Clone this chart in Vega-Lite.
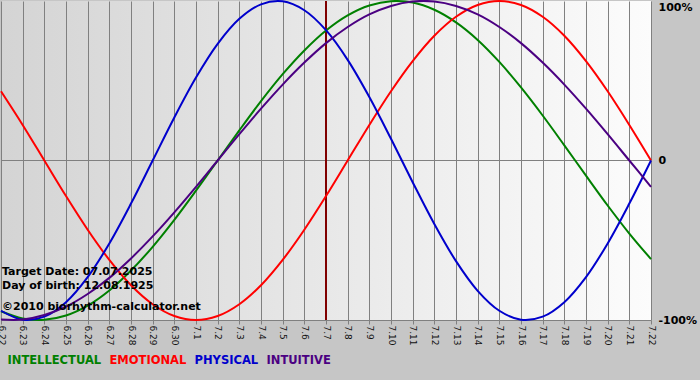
{
  "$schema": "https://vega.github.io/schema/vega-lite/v6.json",
  "width": 650,
  "height": 319,
  "autosize": {"type": "none"},
  "padding": {"left": 1, "top": 1, "right": 49, "bottom": 60},
  "background": "#c6c6c6",
  "config": {
    "font": "DejaVu Sans",
    "view": {
      "stroke": null,
      "fill": {"gradient": "linear", "x1": 0, "y1": 0, "x2": 1, "y2": 0,
        "stops": [{"offset": 0, "color": "#d4d4d4"}, {"offset": 1, "color": "#fcfcfc"}]}
    },
    "axisX": {
      "title": null,
      "grid": true, "gridColor": "#808080", "gridOpacity": 1, "gridWidth": 1,
      "domain": true, "domainColor": "#808080", "domainWidth": 1,
      "ticks": true, "tickColor": "#808080", "tickSize": 4,
      "labelAngle": 90, "labelAlign": "left", "labelBaseline": "middle",
      "labelFont": "DejaVu Sans", "labelFontSize": 9, "labelColor": "#111111",
      "labelPadding": 1, "labelOverlap": false, "labelFlush": false, "labelBound": false
    },
    "axisY": {
      "title": null, "grid": false, "domain": false, "ticks": false,
      "labelAlign": "left",
      "labelFont": "DejaVu Sans", "labelFontWeight": "bold", "labelFontSize": 11, "labelColor": "#000000",
      "labelPadding": 7, "labelFlush": false, "labelOverlap": false, "labelBound": false
    }
  },
  "layer": [
    {
      "data": {"values": [{}]},
      "mark": {"type": "rule", "color": "#808080", "strokeWidth": 1},
      "encoding": {"y": {"datum": 0, "type": "quantitative",
        "axis": {"orient": "right", "values": [-1, 0, 1], "tickCount": 10,
          "labelExpr": "datum.value == 1 ? '100%' : datum.value == 0 ? '0' : '-100%'",
          "labelBaseline": {"condition": {"test": "datum.value == 1", "value": "top"}, "value": "middle"}}}}
    },
    {
      "data": {"values": [{}]},
      "mark": {"type": "rule", "color": "#800000", "strokeWidth": 2},
      "encoding": {"x": {"datum": 15, "type": "quantitative",
        "axis": {"values": [0,1,2,3,4,5,6,7,8,9,10,11,12,13,14,15,16,17,18,19,20,21,22,23,24,25,26,27,28,29,30],
          "tickCount": 40,
          "labelExpr": "['6.22','6.23','6.24','6.25','6.26','6.27','6.28','6.29','6.30','7.1','7.2','7.3','7.4','7.5','7.6','7.7','7.8','7.9','7.10','7.11','7.12','7.13','7.14','7.15','7.16','7.17','7.18','7.19','7.20','7.21','7.22'][datum.value]"}}}
    },
    {
      "data": {"values": [
        {"d":0,"INTELLECTUAL":-0.945,"EMOTIONAL":0.434,"PHYSICAL":-0.942,"INTUITIVE":-0.997},
        {"d":1,"INTELLECTUAL":-0.990,"EMOTIONAL":0.223,"PHYSICAL":-0.998,"INTUITIVE":-0.997},
        {"d":2,"INTELLECTUAL":-0.999,"EMOTIONAL":0,"PHYSICAL":-0.979,"INTUITIVE":-0.969},
        {"d":3,"INTELLECTUAL":-0.972,"EMOTIONAL":-0.223,"PHYSICAL":-0.888,"INTUITIVE":-0.916},
        {"d":4,"INTELLECTUAL":-0.910,"EMOTIONAL":-0.434,"PHYSICAL":-0.731,"INTUITIVE":-0.837},
        {"d":5,"INTELLECTUAL":-0.815,"EMOTIONAL":-0.623,"PHYSICAL":-0.520,"INTUITIVE":-0.736},
        {"d":6,"INTELLECTUAL":-0.690,"EMOTIONAL":-0.782,"PHYSICAL":-0.270,"INTUITIVE":-0.614},
        {"d":7,"INTELLECTUAL":-0.541,"EMOTIONAL":-0.901,"PHYSICAL":0,"INTUITIVE":-0.476},
        {"d":8,"INTELLECTUAL":-0.372,"EMOTIONAL":-0.975,"PHYSICAL":0.270,"INTUITIVE":-0.325},
        {"d":9,"INTELLECTUAL":-0.189,"EMOTIONAL":-1,"PHYSICAL":0.520,"INTUITIVE":-0.165},
        {"d":10,"INTELLECTUAL":0,"EMOTIONAL":-0.975,"PHYSICAL":0.731,"INTUITIVE":0},
        {"d":11,"INTELLECTUAL":0.189,"EMOTIONAL":-0.901,"PHYSICAL":0.888,"INTUITIVE":0.165},
        {"d":12,"INTELLECTUAL":0.372,"EMOTIONAL":-0.782,"PHYSICAL":0.979,"INTUITIVE":0.325},
        {"d":13,"INTELLECTUAL":0.541,"EMOTIONAL":-0.623,"PHYSICAL":0.998,"INTUITIVE":0.476},
        {"d":14,"INTELLECTUAL":0.690,"EMOTIONAL":-0.434,"PHYSICAL":0.942,"INTUITIVE":0.614},
        {"d":15,"INTELLECTUAL":0.815,"EMOTIONAL":-0.223,"PHYSICAL":0.817,"INTUITIVE":0.736},
        {"d":16,"INTELLECTUAL":0.910,"EMOTIONAL":0,"PHYSICAL":0.631,"INTUITIVE":0.837},
        {"d":17,"INTELLECTUAL":0.972,"EMOTIONAL":0.223,"PHYSICAL":0.398,"INTUITIVE":0.916},
        {"d":18,"INTELLECTUAL":0.999,"EMOTIONAL":0.434,"PHYSICAL":0.136,"INTUITIVE":0.969},
        {"d":19,"INTELLECTUAL":0.990,"EMOTIONAL":0.623,"PHYSICAL":-0.136,"INTUITIVE":0.997},
        {"d":20,"INTELLECTUAL":0.945,"EMOTIONAL":0.782,"PHYSICAL":-0.398,"INTUITIVE":0.997},
        {"d":21,"INTELLECTUAL":0.866,"EMOTIONAL":0.901,"PHYSICAL":-0.631,"INTUITIVE":0.969},
        {"d":22,"INTELLECTUAL":0.756,"EMOTIONAL":0.975,"PHYSICAL":-0.817,"INTUITIVE":0.916},
        {"d":23,"INTELLECTUAL":0.618,"EMOTIONAL":1,"PHYSICAL":-0.942,"INTUITIVE":0.837},
        {"d":24,"INTELLECTUAL":0.458,"EMOTIONAL":0.975,"PHYSICAL":-0.998,"INTUITIVE":0.736},
        {"d":25,"INTELLECTUAL":0.282,"EMOTIONAL":0.901,"PHYSICAL":-0.979,"INTUITIVE":0.614},
        {"d":26,"INTELLECTUAL":0.095,"EMOTIONAL":0.782,"PHYSICAL":-0.888,"INTUITIVE":0.476},
        {"d":27,"INTELLECTUAL":-0.095,"EMOTIONAL":0.623,"PHYSICAL":-0.731,"INTUITIVE":0.325},
        {"d":28,"INTELLECTUAL":-0.282,"EMOTIONAL":0.434,"PHYSICAL":-0.520,"INTUITIVE":0.165},
        {"d":29,"INTELLECTUAL":-0.458,"EMOTIONAL":0.223,"PHYSICAL":-0.270,"INTUITIVE":0},
        {"d":30,"INTELLECTUAL":-0.618,"EMOTIONAL":0,"PHYSICAL":0,"INTUITIVE":-0.165}
      ]},
      "transform": [{"fold": ["INTELLECTUAL", "EMOTIONAL", "PHYSICAL", "INTUITIVE"], "as": ["series", "v"]}],
      "mark": {"type": "line", "strokeWidth": 2, "interpolate": "catmull-rom"},
      "encoding": {
        "x": {"field": "d", "type": "quantitative", "scale": {"domain": [0, 30], "nice": false, "zero": false}},
        "y": {"field": "v", "type": "quantitative", "scale": {"domain": [-1, 1], "nice": false}},
        "color": {
          "field": "series", "type": "nominal",
          "scale": {"domain": ["INTELLECTUAL", "EMOTIONAL", "PHYSICAL", "INTUITIVE"],
                    "range": ["#008000", "#ff0000", "#0000cc", "#4b0082"]},
          "legend": {
            "title": null, "orient": "none", "legendX": 6, "legendY": 354, "direction": "horizontal",
            "padding": 0, "symbolSize": 0, "symbolOpacity": 0, "symbolStrokeWidth": 0, "labelOffset": -11,
            "columnPadding": 7, "labelFont": "DejaVu Sans", "labelFontWeight": "bold", "labelFontSize": 11.5,
            "encode": {"labels": {"update": {"fill": {"scale": "color", "field": "value"}}}}
          }
        }
      }
    },
    {
      "data": {"values": [{}]},
      "mark": {"type": "text", "text": "Target Date: 07.07.2025", "align": "left", "baseline": "middle", "dx": 1, "font": "DejaVu Sans", "fontWeight": "bold", "fontSize": 11, "color": "#000000"},
      "encoding": {"x": {"datum": 0, "type": "quantitative"}, "y": {"datum": -0.699, "type": "quantitative"}}
    },
    {
      "data": {"values": [{}]},
      "mark": {"type": "text", "text": "Day of birth: 12.08.1925", "align": "left", "baseline": "middle", "dx": 1, "font": "DejaVu Sans", "fontWeight": "bold", "fontSize": 11, "color": "#000000"},
      "encoding": {"x": {"datum": 0, "type": "quantitative"}, "y": {"datum": -0.787, "type": "quantitative"}}
    },
    {
      "data": {"values": [{}]},
      "mark": {"type": "text", "text": "©2010 biorhythm-calculator.net", "align": "left", "baseline": "middle", "dx": 1, "font": "DejaVu Sans", "fontWeight": "bold", "fontSize": 11, "color": "#000000"},
      "encoding": {"x": {"datum": 0, "type": "quantitative"}, "y": {"datum": -0.918, "type": "quantitative"}}
    }
  ]
}
